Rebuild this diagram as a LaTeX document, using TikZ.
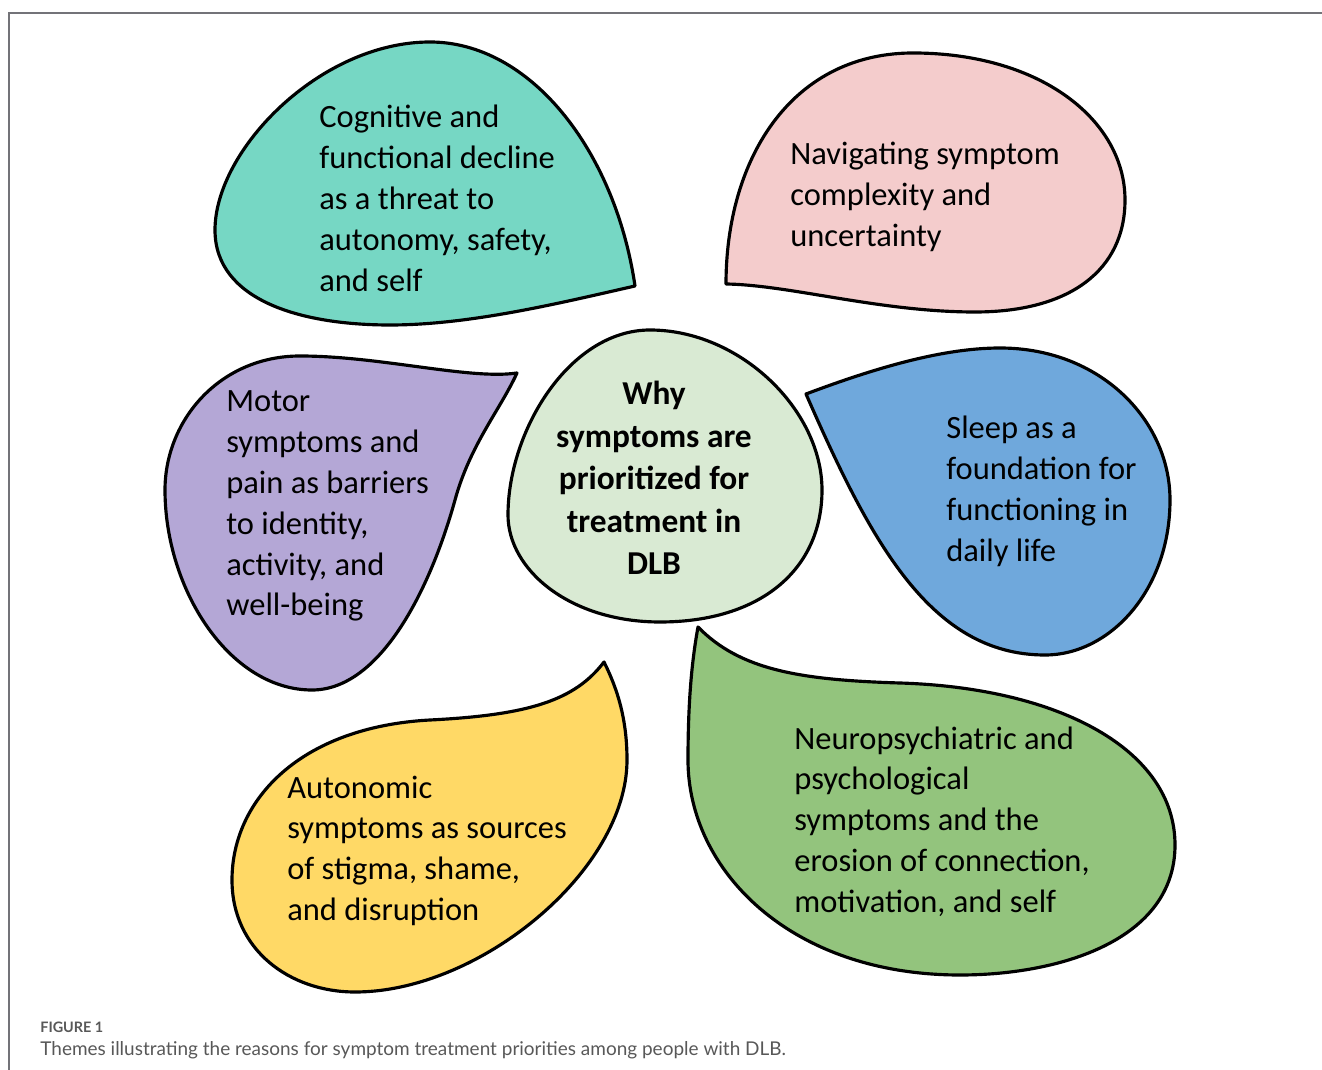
\documentclass[tikz,border=0pt]{standalone}
\usepackage{fontspec}
\setmainfont{Carlito}
\newfontfamily\capfont{Lato}
\usetikzlibrary{positioning}
\definecolor{cteal}{RGB}{118,215,196}
\definecolor{cpink}{RGB}{244,204,204}
\definecolor{cviolet}{RGB}{180,167,214}
\definecolor{cblue}{RGB}{111,168,220}
\definecolor{cyellow}{RGB}{255,217,102}
\definecolor{cgreen}{RGB}{147,196,125}
\definecolor{ccore}{RGB}{217,234,211}
\definecolor{cframe}{RGB}{115,115,120}
\definecolor{ccap}{RGB}{88,88,88}
\newcommand{\tightspace}{\setlength{\spaceskip}{0.226em}}

\begin{document}
\begin{tikzpicture}[x=0.02cm,y=-0.02cm,
    petal/.style={draw=black,line width=1.8pt,line join=round},
    theme/.style={anchor=base west,inner sep=0pt,text width=7cm,align=left,
      font=\fontsize{18.5}{23.2}\selectfont,execute at begin node=\tightspace}]
    \useasboundingbox (0,0) rectangle (1322,1070);
    \draw[cframe,line width=0.9pt] (9,1070) -- (9,13) -- (1322,13);

    % petals
    \path[petal,fill=cteal] (635,286) .. controls (560,303) and (470,325) .. (390,325)
      .. controls (300,325) and (215,300) .. (215,230)
      .. controls (215,150) and (320,42) .. (430,42)
      .. controls (530,42) and (615,150) .. (635,286) -- cycle;
    \path[petal,fill=cpink] (726,284) .. controls (726,160) and (790,55) .. (910,53)
      .. controls (1040,52) and (1125,120) .. (1125,200)
      .. controls (1125,270) and (1070,312) .. (975,312)
      .. controls (880,312) and (790,285) .. (726,284) -- cycle;
    \path[petal,fill=cviolet] (517,373) .. controls (470,380) and (380,356) .. (300,356)
      .. controls (220,356) and (165,420) .. (165,490)
      .. controls (165,590) and (230,690) .. (312,690)
      .. controls (380,690) and (430,590) .. (455,500)
      .. controls (470,445) and (500,410) .. (517,373) -- cycle;
    \path[petal,fill=cblue] (806,394) .. controls (870,370) and (940,348) .. (1000,348)
      .. controls (1100,348) and (1170,420) .. (1170,500)
      .. controls (1170,590) and (1110,655) .. (1045,655)
      .. controls (930,655) and (870,540) .. (806,394) -- cycle;
    \path[petal,fill=cyellow] (604,662) .. controls (575,700) and (530,715) .. (430,720)
      .. controls (300,727) and (232,800) .. (232,880)
      .. controls (232,950) and (290,992) .. (355,992)
      .. controls (480,992) and (627,870) .. (627,760)
      .. controls (627,720) and (618,690) .. (604,662) -- cycle;
    \path[petal,fill=cgreen] (698,627) .. controls (740,670) and (800,680) .. (900,683)
      .. controls (1060,688) and (1175,750) .. (1175,845)
      .. controls (1175,940) and (1060,975) .. (960,975)
      .. controls (790,975) and (688,870) .. (688,760)
      .. controls (688,700) and (692,660) .. (698,627) -- cycle;
    % centre
    \path[petal,fill=ccore] (650,330) .. controls (740,330) and (822,410) .. (822,490)
      .. controls (822,570) and (760,622) .. (660,622)
      .. controls (570,622) and (508,570) .. (508,515)
      .. controls (508,430) and (570,330) .. (650,330) -- cycle;

    \node[anchor=base,inner sep=0pt,text width=5cm,align=center,
      font=\bfseries\fontsize{19}{24.1}\selectfont,execute at begin node=\tightspace] (core) at (654,405)
      {Why\\symptoms are\\prioritized for\\treatment in\\DLB};

    \node[theme] (cogn) at (319,128) {Cognitive and\\functional decline\\as a threat to\\autonomy, safety,\\and self};
    \node[theme] (navi) at (790,165) {Navigating symptom\\complexity and\\uncertainty};
    \node[theme] (motor) at (226,412) {Motor\\symptoms and\\pain as barriers\\to identity,\\activity, and\\well-being};
    \node[theme] (sleep) at (946,439) {Sleep as a\\foundation for\\functioning in\\daily life};
    \node[theme] (auto) at (287,798) {Autonomic\\symptoms as sources\\of stigma, shame,\\and disruption};
    \node[theme] (neuro) at (794,749) {Neuropsychiatric and\\psychological\\symptoms and the\\erosion of connection,\\motivation, and self};

    % caption
    \node[anchor=base west,inner sep=0pt,text=ccap,
      font=\capfont\bfseries\fontsize{8.2}{9}\selectfont] (figno) at (40,1032) {FIGURE 1};
    \node[anchor=base west,inner sep=0pt,text=ccap,
      font=\capfont\fontsize{10.8}{12}\selectfont] (figcap) at (40,1055)
      {Themes illustrating the reasons for symptom treatment priorities among people with DLB.};
\end{tikzpicture}
\end{document}
